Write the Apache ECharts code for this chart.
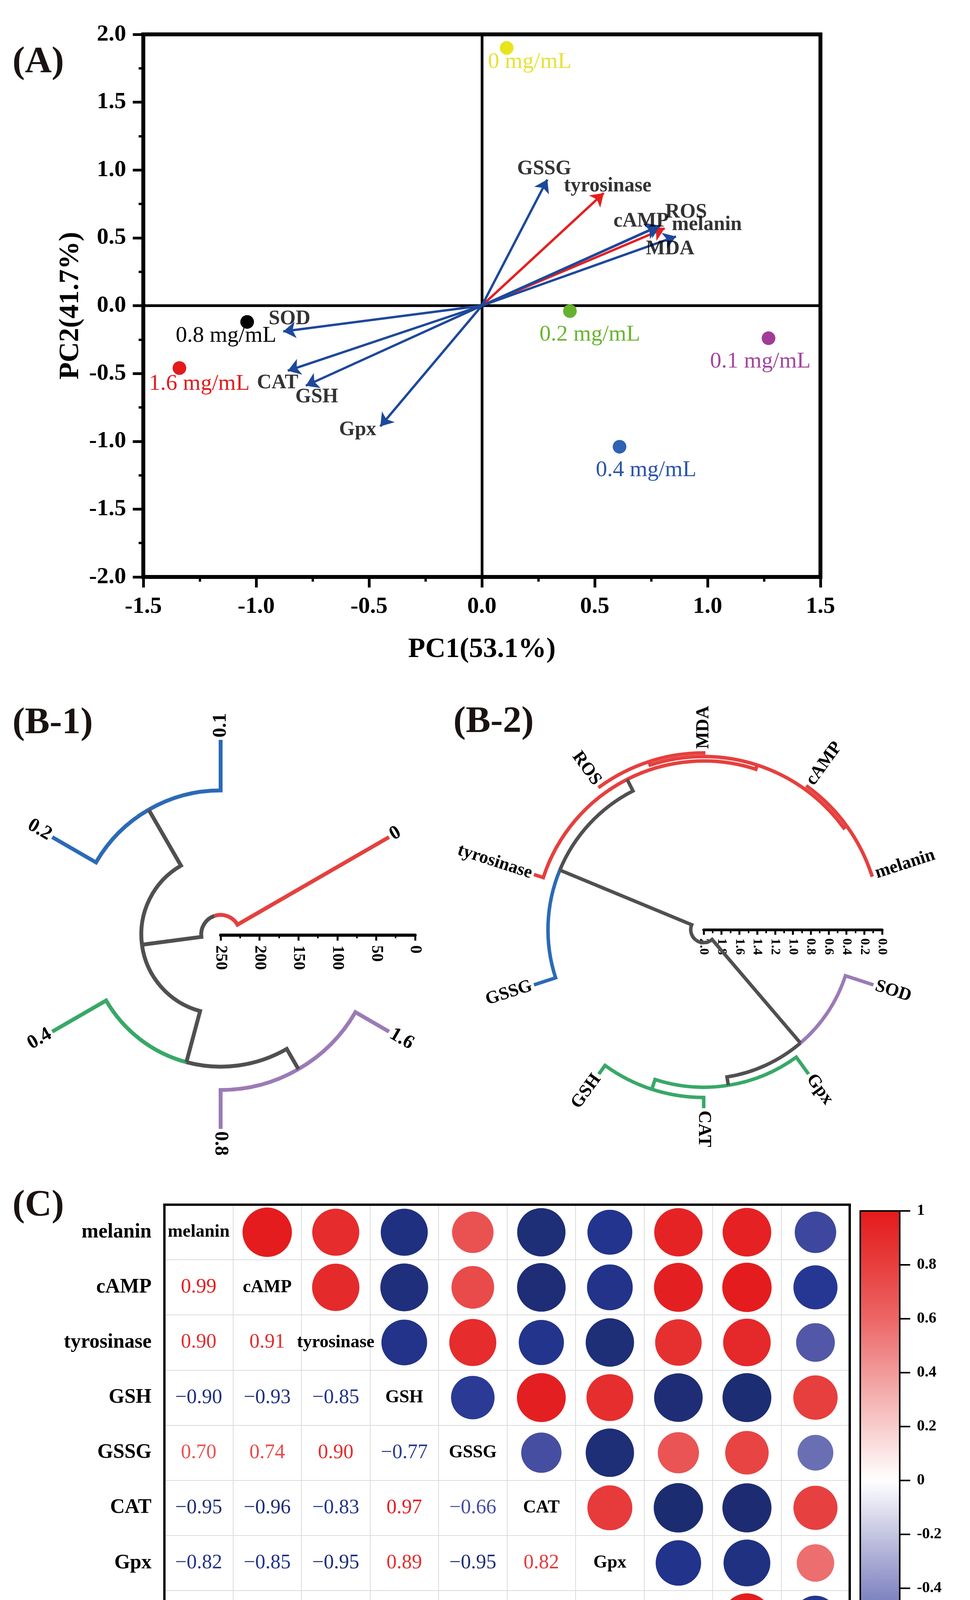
<!DOCTYPE html>
<html>
<head>
<meta charset="utf-8">
<script src="https://cdn.jsdelivr.net/npm/echarts@6.0.0/dist/echarts.min.js"></script>
<style>
html,body{margin:0;padding:0;background:#ffffff;}
#chart{width:2484px;height:4770px;}
</style>
</head>
<body>
<div id="chart"></div>
<script>
// ================= DATA =================
// (A) PCA biplot
const sampleNames = ['0 mg/mL', '0.1 mg/mL', '0.2 mg/mL', '0.4 mg/mL', '0.8 mg/mL', '1.6 mg/mL'];
const samplePC1 = [0.11, 1.27, 0.39, 0.61, -1.04, -1.34];
const samplePC2 = [1.90, -0.24, -0.04, -1.04, -0.12, -0.46];
const loadingNames = ['melanin', 'cAMP', 'tyrosinase', 'GSH', 'GSSG', 'CAT', 'Gpx', 'MDA', 'ROS', 'SOD'];
const loadingPC1 = [0.81, 0.79, 0.54, -0.78, 0.29, -0.86, -0.45, 0.86, 0.78, -0.88];
const loadingPC2 = [0.57, 0.59, 0.83, -0.59, 0.93, -0.48, -0.89, 0.51, 0.585, -0.19];
const pcaXTicks = [-1.5, -1.0, -0.5, 0.0, 0.5, 1.0, 1.5];
const pcaYTicks = [-2.0, -1.5, -1.0, -0.5, 0.0, 0.5, 1.0, 1.5, 2.0];

// (B-1) sample dendrogram: leaves in drawing order, cluster of each leaf, merges [childA, childB, height]
const b1Leaves = ['0', '0.1', '0.2', '0.4', '0.8', '1.6'];
const b1LeafCluster = [0, 1, 1, 2, 3, 3];
const b1Merges = [[1, 2, 65], [4, 5, 50], [3, 7, 80], [6, 8, 148], [0, 9, 225]];
const b1Ticks = [0, 50, 100, 150, 200, 250];

// (B-2) indicator dendrogram
const b2Leaves = ['melanin', 'cAMP', 'MDA', 'ROS', 'tyrosinase', 'GSSG', 'GSH', 'CAT', 'Gpx', 'SOD'];
const b2LeafCluster = [0, 0, 0, 0, 0, 1, 2, 2, 2, 3];
const b2Merges = [[0, 1, 0.02], [2, 3, 0.02], [10, 11, 0.06], [12, 4, 0.11], [13, 5, 0.255],
                  [6, 7, 0.12], [15, 8, 0.235], [16, 9, 0.33], [14, 17, 1.855]];
const b2Ticks = [0, 0.2, 0.4, 0.6, 0.8, 1.0, 1.2, 1.4, 1.6, 1.8, 2.0];

// (C) correlation matrix (lower triangle, row by row)
const corrVars = ['melanin', 'cAMP', 'tyrosinase', 'GSH', 'GSSG', 'CAT', 'Gpx', 'MDA', 'ROS', 'SOD'];
const corrLower = [
  [],
  [0.99],
  [0.90, 0.91],
  [-0.90, -0.93, -0.85],
  [0.70, 0.74, 0.90, -0.77],
  [-0.95, -0.96, -0.83, 0.97, -0.66],
  [-0.82, -0.85, -0.95, 0.89, -0.95, 0.82],
  [0.95, 0.97, 0.88, -0.96, 0.69, -0.99, -0.84],
  [0.96, 0.99, 0.92, -0.97, 0.77, -0.98, -0.89, 0.99],
  [-0.70, -0.79, -0.61, 0.80, -0.52, 0.79, 0.57, -0.81, -0.81]
];
const colorbarTicks = [-1, -0.8, -0.6, -0.4, -0.2, 0, 0.2, 0.4, 0.6, 0.8, 1];

// ================= STYLE =================
const FONT = '"Liberation Serif","Times New Roman",serif';
const sampleColors = ['#e8e41c', '#a03c98', '#66b22e', '#2e62b3', '#000000', '#e41a1c'];
const sampleLabelColors = ['#e6e236', '#a3479c', '#6ab42f', '#2b55a8', '#000000', '#e41a1c'];
const sampleLabelOffset = [[59, 36], [-21, 60], [51, 60], [68, 60], [-54, 36], [51, 41]];
const loadingRed = {melanin: true, tyrosinase: true};
const loadingLabelOffset = {
  melanin: [108, -9], cAMP: [-49, -11], tyrosinase: [10, -18], GSH: [28, 29], GSSG: [-8, -27],
  CAT: [-26, 31], Gpx: [-58, 9], MDA: [-15, 32], ROS: [72, -36], SOD: [16, -32]
};
const dendroColors = ['#e5403e', '#2b6ab7', '#38a868', '#9b7bb6', '#505050'];
const corrColors = ['#1c2b6e', '#243592', '#5459a8', '#8b8fc6', '#c4c5e1', '#ffffff',
                    '#f8cccc', '#f19a9a', '#ec6666', '#e73e3e', '#e41a1c'];

// ================= HELPERS =================
function buildDendro(leaves, clusters, merges, startAngle) {
  const n = leaves.length;
  const ang = [], hgt = [], clu = [], parent = [];
  for (let i = 0; i < n; i++) { ang[i] = startAngle + i * 360 / n; hgt[i] = 0; clu[i] = clusters[i]; }
  merges.forEach(function (m, k) {
    const id = n + k;
    ang[id] = (ang[m[0]] + ang[m[1]]) / 2;
    hgt[id] = m[2];
    clu[id] = (clu[m[0]] === clu[m[1]]) ? clu[m[0]] : -1;
    parent[m[0]] = id; parent[m[1]] = id;
  });
  const branches = [];
  for (let id = 0; id < n + merges.length; id++) {
    const p = parent[id];
    if (p === undefined) continue;
    let ci;
    if (id < n) ci = clusters[id];
    else ci = (clu[p] !== -1) ? clu[id] : -1;
    branches.push([hgt[id], ang[id], hgt[p], ang[p], ci < 0 ? 4 : ci]);
  }
  const labels = leaves.map(function (nm, i) { return [0, ang[i], i]; });
  return {branches: branches, labels: labels};
}

function dendroRenderer(lw) {
  return function (params, api) {
    const cs = params.coordSys;
    const hc = api.value(0), ac = api.value(1), hp = api.value(2), ap = api.value(3), ci = api.value(4);
    const p1 = api.coord([hc, ac]);
    const p2 = api.coord([hp, ac]);
    const p3 = api.coord([hp, ap]);
    const rr = Math.hypot(p2[0] - cs.cx, p2[1] - cs.cy);
    const s = Math.atan2(p2[1] - cs.cy, p2[0] - cs.cx);
    const e = Math.atan2(p3[1] - cs.cy, p3[0] - cs.cx);
    let d = e - s;
    while (d > Math.PI) d -= 2 * Math.PI;
    while (d < -Math.PI) d += 2 * Math.PI;
    const sweep = d > 0 ? 1 : 0;
    const path = 'M' + p1[0] + ',' + p1[1] + 'L' + p2[0] + ',' + p2[1] +
      'A' + rr + ',' + rr + ',0,0,' + sweep + ',' + p3[0] + ',' + p3[1];
    return {
      type: 'path',
      shape: {pathData: path},
      style: {fill: 'none', stroke: dendroColors[ci], lineWidth: lw, lineJoin: 'miter', lineCap: 'butt'}
    };
  };
}

function leafLabelRenderer(names, fontSize, gap) {
  return function (params, api) {
    const cs = params.coordSys;
    const a = api.value(1), idx = api.value(2);
    const tip = api.coord([0, a]);
    const dx = tip[0] - cs.cx, dy = tip[1] - cs.cy;
    const L = Math.hypot(dx, dy);
    const x = tip[0] + dx / L * gap, y = tip[1] + dy / L * gap;
    const deg = ((a % 360) + 360) % 360;
    const right = (deg <= 90.01 || deg >= 269.99);
    const rotDeg = right ? deg : deg - 180;
    return {
      type: 'text', x: x, y: y, rotation: rotDeg * Math.PI / 180,
      style: {text: names[idx], fontSize: fontSize, fontWeight: 'bold', fontFamily: FONT, fill: '#000',
              align: right ? 'left' : 'right', verticalAlign: 'middle'}
    };
  };
}

function fmtCorr(v) { return v < 0 ? '\u2212' + Math.abs(v).toFixed(2) : v.toFixed(2); }
function corrAt(i, j) { return i > j ? corrLower[i][j] : corrLower[j][i]; }

const b1 = buildDendro(b1Leaves, b1LeafCluster, b1Merges, 30);
const b2 = buildDendro(b2Leaves, b2LeafCluster, b2Merges, 18);

const upperData = [], lowerData = [], diagData = [];
for (let i = 0; i < corrVars.length; i++) {
  for (let j = 0; j < corrVars.length; j++) {
    if (j > i) upperData.push([j, i, corrAt(i, j)]);
    else if (j < i) lowerData.push([j, i, corrAt(i, j)]);
    else diagData.push([j, i, i]);
  }
}

// ================= CHART =================
const chart = echarts.init(document.getElementById('chart'), null, {renderer: 'canvas', width: 2484, height: 4770});

const boldLabel = function (size) { return {color: '#000', fontFamily: FONT, fontWeight: 'bold', fontSize: size}; };
const blackLine = function (w) { return {show: true, onZero: false, lineStyle: {color: '#000', width: w}}; };

const series = [];
// 0 : PCA sample points (with zero lines)
series.push({
  type: 'scatter', xAxisIndex: 0, yAxisIndex: 0, z: 4, symbolSize: 35,
  itemStyle: {opacity: 1},
  data: sampleNames.map(function (n, i) {
    return {
      name: n, value: [samplePC1[i], samplePC2[i]],
      itemStyle: {color: sampleColors[i], opacity: 1},
      label: {show: true, position: 'inside', offset: sampleLabelOffset[i], formatter: n,
              color: sampleLabelColors[i], fontFamily: FONT, fontSize: 58}
    };
  }),
  markLine: {
    silent: true, z: 1, symbol: ['none', 'none'], animation: false,
    label: {show: false},
    lineStyle: {color: '#000', width: 7, type: 'solid'},
    data: [{xAxis: 0}, {yAxis: 0}]
  }
});
// 1 : PCA loading arrows
series.push({
  type: 'lines', coordinateSystem: 'cartesian2d', xAxisIndex: 0, yAxisIndex: 0, z: 3,
  symbol: ['none', 'arrow'], symbolSize: 32,
  lineStyle: {width: 6, opacity: 1, curveness: 0},
  data: loadingNames.map(function (n, i) {
    return {name: n, coords: [[0, 0], [loadingPC1[i], loadingPC2[i]]],
            lineStyle: {color: loadingRed[n] ? '#e61e1e' : '#1d489b'}};
  })
});
// 2 : PCA loading labels
series.push({
  type: 'scatter', xAxisIndex: 0, yAxisIndex: 0, z: 5, symbolSize: 1,
  itemStyle: {color: 'rgba(0,0,0,0)'},
  data: loadingNames.map(function (n, i) {
    return {name: n, value: [loadingPC1[i], loadingPC2[i]],
            label: {show: true, position: 'inside', offset: loadingLabelOffset[n], formatter: n,
                    color: '#000', fontFamily: FONT, fontWeight: 'bold', fontSize: 52}};
  })
});
// 3,4 : B-1 dendrogram + labels
series.push({type: 'custom', coordinateSystem: 'polar', polarIndex: 0, z: 3,
  renderItem: dendroRenderer(10), data: b1.branches});
series.push({type: 'custom', coordinateSystem: 'polar', polarIndex: 0, z: 3,
  renderItem: leafLabelRenderer(b1Leaves, 50, 6), data: b1.labels});
// 5,6 : B-2 dendrogram + labels
series.push({type: 'custom', coordinateSystem: 'polar', polarIndex: 1, z: 3,
  renderItem: dendroRenderer(9), data: b2.branches});
series.push({type: 'custom', coordinateSystem: 'polar', polarIndex: 1, z: 3,
  renderItem: leafLabelRenderer(b2Leaves, 46, 6), data: b2.labels});
// 7 : correlation circles
series.push({
  type: 'scatter', xAxisIndex: 3, yAxisIndex: 3, z: 3,
  itemStyle: {opacity: 1},
  symbolSize: function (val) { return 127 * Math.sqrt(Math.abs(val[2])); },
  data: upperData
});
// 8 : correlation numbers
series.push({
  type: 'custom', xAxisIndex: 3, yAxisIndex: 3, z: 3,
  renderItem: function (params, api) {
    const p = api.coord([api.value(0), api.value(1)]);
    return {type: 'text', x: p[0], y: p[1],
      style: {text: fmtCorr(api.value(2)), fill: api.visual('color'), fontSize: 52, fontFamily: FONT,
              align: 'center', verticalAlign: 'middle'}};
  },
  data: lowerData
});
// 9 : diagonal names
series.push({
  type: 'custom', xAxisIndex: 3, yAxisIndex: 3, z: 3,
  renderItem: function (params, api) {
    const p = api.coord([api.value(0), api.value(1)]);
    return {type: 'text', x: p[0], y: p[1],
      style: {text: corrVars[api.value(2)], fill: '#000', fontSize: 46, fontWeight: 'bold', fontFamily: FONT,
              align: 'center', verticalAlign: 'middle'}};
  },
  data: diagData
});

const option = {
  animation: false,
  backgroundColor: '#ffffff',
  textStyle: {fontFamily: FONT},
  graphic: [
    {type: 'text', x: 32, y: 160, style: {text: '(A)', fontSize: 95, fontWeight: 'bold', fontFamily: FONT, fill: '#1a1311', verticalAlign: 'middle'}},
    {type: 'text', x: 32, y: 1852, style: {text: '(B-1)', fontSize: 95, fontWeight: 'bold', fontFamily: FONT, fill: '#1a1311', verticalAlign: 'middle'}},
    {type: 'text', x: 1161, y: 1849, style: {text: '(B-2)', fontSize: 95, fontWeight: 'bold', fontFamily: FONT, fill: '#1a1311', verticalAlign: 'middle'}},
    {type: 'text', x: 32, y: 3087, style: {text: '(C)', fontSize: 95, fontWeight: 'bold', fontFamily: FONT, fill: '#1a1311', verticalAlign: 'middle'}}
  ],
  grid: [
    {left: 367, top: 88, width: 1734, height: 1389, show: true, borderColor: '#000', borderWidth: 10, backgroundColor: 'transparent'},
    {left: 565, top: 2393, width: 498, height: 1},
    {left: 1802, top: 2379, width: 457, height: 1},
    {left: 421, top: 3084, width: 1755, height: 1411, show: true, borderColor: '#000', borderWidth: 6, backgroundColor: 'transparent', z: 5},
    {left: 2203, top: 3100, width: 101, height: 1380, show: true, borderColor: '#000', borderWidth: 4, backgroundColor: 'transparent', z: 10}
  ],
  xAxis: [
    {gridIndex: 0, type: 'value', min: pcaXTicks[0], max: pcaXTicks[pcaXTicks.length - 1], interval: pcaXTicks[1] - pcaXTicks[0],
     axisLine: blackLine(10), axisTick: {show: true, length: 27, lineStyle: {color: '#000', width: 7}},
     minorTick: {show: true, splitNumber: 2, length: 12, lineStyle: {color: '#000', width: 6}},
     splitLine: {show: false},
     axisLabel: Object.assign(boldLabel(60), {margin: 46, formatter: function (v) { return v.toFixed(1); }}),
     name: 'PC1(53.1%)', nameLocation: 'middle', nameGap: 150, nameTextStyle: boldLabel(72)},
    {gridIndex: 1, type: 'value', min: b1Ticks[0], max: b1Ticks[b1Ticks.length - 1], interval: b1Ticks[1] - b1Ticks[0], inverse: true,
     axisLine: blackLine(8), axisTick: {show: true, length: 14, lineStyle: {color: '#000', width: 5}},
     minorTick: {show: true, splitNumber: 2, length: 8, lineStyle: {color: '#000', width: 4}},
     splitLine: {show: false},
     axisLabel: Object.assign(boldLabel(42), {rotate: -90, margin: 26})},
    {gridIndex: 2, type: 'value', min: b2Ticks[0], max: b2Ticks[b2Ticks.length - 1], interval: 0.2, inverse: true,
     axisLine: blackLine(7), axisTick: {show: true, length: 13, lineStyle: {color: '#000', width: 5}},
     minorTick: {show: true, splitNumber: 2, length: 9, lineStyle: {color: '#000', width: 4}},
     splitLine: {show: false},
     axisLabel: Object.assign(boldLabel(34), {rotate: -90, margin: 22, formatter: function (v) { return v.toFixed(1); }})},
    {gridIndex: 3, type: 'category', data: corrVars, boundaryGap: true,
     axisLine: {show: false}, axisTick: {show: false},
     splitLine: {show: true, interval: 0, showMinLine: false, showMaxLine: false, lineStyle: {color: '#dcdcdc', width: 2}},
     axisLabel: Object.assign(boldLabel(52), {rotate: 45, interval: 0, margin: 70})},
    {gridIndex: 4, type: 'value', min: 0, max: 1, show: false}
  ],
  yAxis: [
    {gridIndex: 0, type: 'value', min: pcaYTicks[0], max: pcaYTicks[pcaYTicks.length - 1], interval: pcaYTicks[1] - pcaYTicks[0],
     axisLine: blackLine(10), axisTick: {show: true, length: 27, lineStyle: {color: '#000', width: 7}},
     minorTick: {show: true, splitNumber: 2, length: 12, lineStyle: {color: '#000', width: 6}},
     splitLine: {show: false},
     axisLabel: Object.assign(boldLabel(60), {margin: 44, formatter: function (v) { return v.toFixed(1); }}),
     name: 'PC2(41.7%)', nameLocation: 'middle', nameGap: 150, nameTextStyle: boldLabel(72)},
    {gridIndex: 1, type: 'value', min: 0, max: 1, show: false},
    {gridIndex: 2, type: 'value', min: 0, max: 1, show: false},
    {gridIndex: 3, type: 'category', data: corrVars, inverse: true, boundaryGap: true,
     axisLine: {show: false}, axisTick: {show: false},
     splitLine: {show: true, interval: 0, showMinLine: false, showMaxLine: false, lineStyle: {color: '#dcdcdc', width: 2}},
     axisLabel: Object.assign(boldLabel(52), {interval: 0, margin: 33})},
    {gridIndex: 4, type: 'value', position: 'right',
     min: colorbarTicks[0], max: colorbarTicks[colorbarTicks.length - 1], interval: colorbarTicks[1] - colorbarTicks[0],
     axisLine: blackLine(4), axisTick: {show: true, length: 27, lineStyle: {color: '#000', width: 4}},
     splitLine: {show: false},
     axisLabel: Object.assign(boldLabel(40), {margin: 44, formatter: function (v) { return String(parseFloat(v.toFixed(1))); }})}
  ],
  polar: [
    {center: [565, 2392], radius: 498},
    {center: [1802, 2380], radius: 457}
  ],
  angleAxis: [
    {polarIndex: 0, type: 'value', min: 0, max: 360, startAngle: 0, clockwise: false, show: false},
    {polarIndex: 1, type: 'value', min: 0, max: 360, startAngle: 0, clockwise: false, show: false}
  ],
  radiusAxis: [
    {polarIndex: 0, type: 'value', min: b1Ticks[0], max: b1Ticks[b1Ticks.length - 1], inverse: true, show: false},
    {polarIndex: 1, type: 'value', min: b2Ticks[0], max: b2Ticks[b2Ticks.length - 1], inverse: true, show: false}
  ],
  visualMap: {
    type: 'continuous', min: -1, max: 1, dimension: 2, seriesIndex: [7, 8],
    inRange: {color: corrColors},
    left: 2203, top: 3100, itemWidth: 101, itemHeight: 1380, padding: 0,
    calculable: false, hoverLink: false, text: null, orient: 'vertical'
  },
  series: series
};
chart.setOption(option);
</script>
</body>
</html>
